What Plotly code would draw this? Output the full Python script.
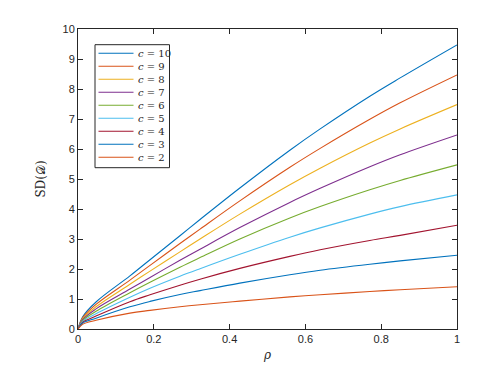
import plotly.graph_objects as go

# Valeurs
rho = [0, 0.012, 0.0475, 0.137, 0.19, 0.269, 0.322, 0.427, 0.559, 0.639, 0.77, 0.85, 1.0]

sd_c10 = [0, 0.40, 0.90, 1.77, 2.31, 3.11, 3.65, 4.70, 5.96, 6.67, 7.76, 8.37, 9.47]
sd_c9 = [0, 0.37, 0.82, 1.63, 2.12, 2.85, 3.33, 4.27, 5.39, 6.02, 6.99, 7.54, 8.47]
sd_c8 = [0, 0.34, 0.74, 1.49, 1.93, 2.57, 3.00, 3.83, 4.81, 5.36, 6.20, 6.67, 7.48]
sd_c7 = [0, 0.31, 0.67, 1.33, 1.72, 2.29, 2.66, 3.38, 4.22, 4.69, 5.41, 5.81, 6.47]
sd_c6 = [0, 0.28, 0.59, 1.21, 1.56, 2.06, 2.38, 3.00, 3.70, 4.08, 4.64, 4.95, 5.47]
sd_c5 = [0, 0.25, 0.51, 1.06, 1.36, 1.76, 2.01, 2.49, 3.06, 3.37, 3.83, 4.08, 4.47]
sd_c4 = [0, 0.22, 0.43, 0.91, 1.14, 1.46, 1.66, 2.02, 2.42, 2.64, 2.95, 3.12, 3.46]
sd_c3 = [0, 0.19, 0.36, 0.74, 0.92, 1.15, 1.28, 1.53, 1.81, 1.96, 2.16, 2.27, 2.46]
sd_c2 = [0, 0.155, 0.29, 0.53, 0.62, 0.74, 0.81, 0.93, 1.07, 1.14, 1.25, 1.31, 1.41]

labels = ["10", "9", "8", "7", "6", "5", "4", "3", "2"]
series = [sd_c10, sd_c9, sd_c8, sd_c7, sd_c6, sd_c5, sd_c4, sd_c3, sd_c2]
colors = ["#0072BD", "#D95319", "#EDB120", "#7E2F8E", "#77AC30",
          "#4DBEEE", "#A2142F", "#0072BD", "#D95319"]

x_ticks = [0, 0.2, 0.4, 0.6, 0.8, 1]
y_ticks = list(range(0, 11))

fig = go.Figure()
for lab, vals, col in zip(labels, series, colors):
    fig.add_trace(go.Scatter(
        x=rho, y=vals, mode="lines", name=f"c = {lab}",
        line=dict(color=col, width=1.1, shape="spline", smoothing=1.0),
        showlegend=False,
    ))

# Zone du tracé en pixels de la page (la page ajoute une marge de 8 px)
L, R, T, B = 78, 457, 29, 329
OFF = 8
W, H = R - L, B - T
def px(x):
    return (x - L) / W
def py(y):
    return (B - y) / H

# Légende dessinée à la main (style MATLAB, compacte)
shapes = [dict(type="rect", xref="paper", yref="paper",
               x0=px(95), x1=px(169.5), y0=py(167.7), y1=py(44.7),
               line=dict(color="#262626", width=1), fillcolor="white", layer="above")]
annotations = []
for i, (lab, col) in enumerate(zip(labels, colors)):
    yc = 53.3 + 13 * i
    shapes.append(dict(type="line", xref="paper", yref="paper",
                       x0=px(98.5), x1=px(133.5), y0=py(yc), y1=py(yc),
                       line=dict(color=col, width=1.1), layer="above"))
    annotations.append(dict(xref="paper", yref="paper", x=px(136), y=py(yc),
                            xanchor="left", yanchor="middle", showarrow=False,
                            text=f"<i>c</i> = {lab}",
                            font=dict(family="DejaVu Serif", size=10, color="#262626")))

fig.update_layout(
    width=504, height=375,
    margin=dict(l=L - OFF, r=504 - R + OFF, t=T - OFF, b=375 - B + OFF),
    paper_bgcolor="white", plot_bgcolor="white",
    font=dict(family="Liberation Sans, Arial", size=11, color="#262626"),
    shapes=shapes, annotations=annotations,
    xaxis=dict(
        range=[0, 1], tickvals=x_ticks, ticktext=["0", "0.2", "0.4", "0.6", "0.8", "1"],
        ticks="inside", ticklen=5, tickcolor="#262626",
        showline=True, linecolor="#262626", linewidth=1, mirror="allticks",
        showgrid=False, zeroline=False,
        title=dict(text="<i>ρ</i>", font=dict(family="DejaVu Serif", size=12), standoff=6),
    ),
    yaxis=dict(
        range=[0, 10], tickvals=y_ticks,
        ticks="inside", ticklen=5, tickcolor="#262626",
        showline=True, linecolor="#262626", linewidth=1, mirror="allticks",
        showgrid=False, zeroline=False,
        title=dict(text="SD(𝒟)", font=dict(family="DejaVu Serif", size=12), standoff=14),
    ),
)

fig.write_html("out.html")
